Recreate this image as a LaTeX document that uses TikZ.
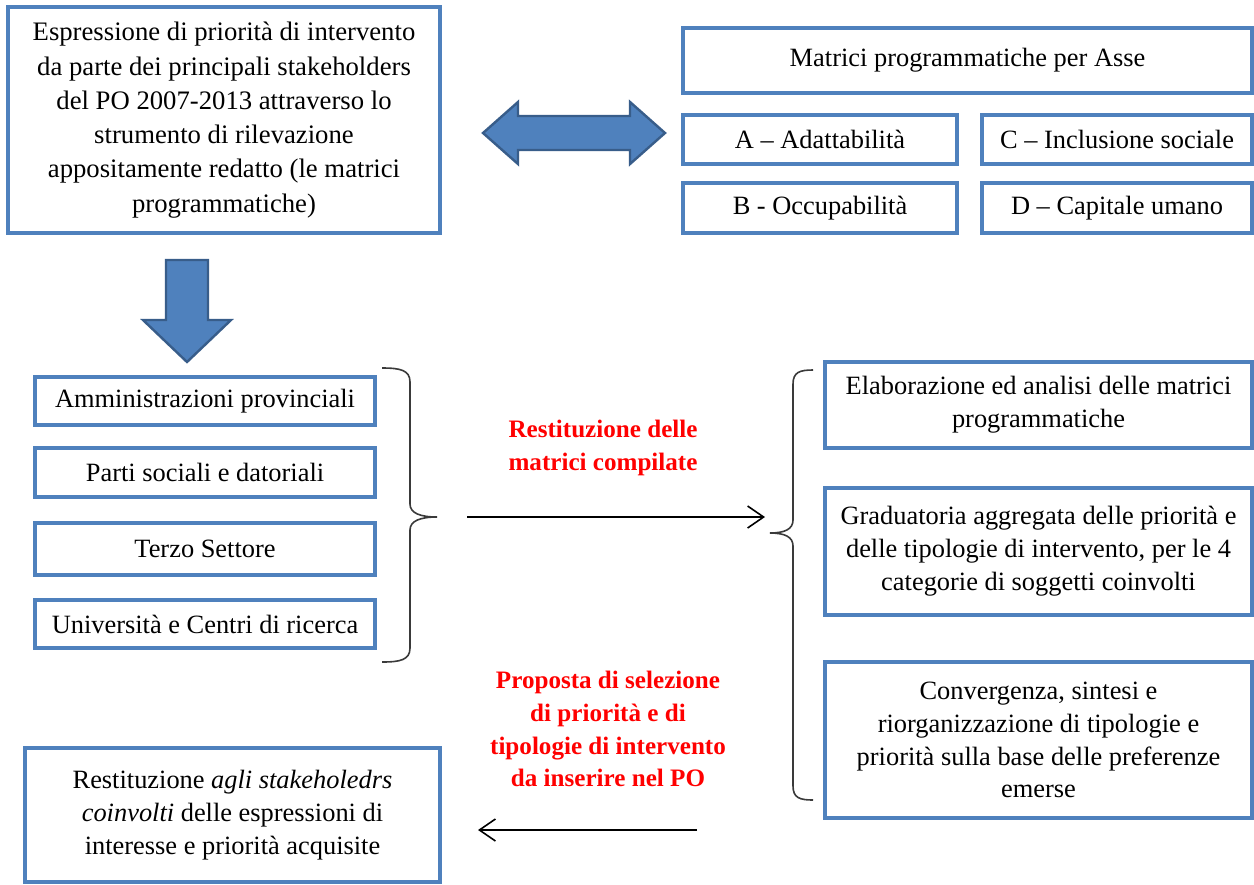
\documentclass[tikz,border=0pt]{standalone}
\usepackage{fontspec}
\setmainfont{Liberation Serif}
\usetikzlibrary{arrows.meta}
\definecolor{boxblue}{HTML}{4F81BD}
\definecolor{arrowfill}{HTML}{4F81BD}
\definecolor{arrowline}{HTML}{385D8A}
\definecolor{bracegray}{HTML}{3A3A3A}
\definecolor{labred}{HTML}{FF0000}
\tikzset{
  box/.style={draw=boxblue, line width=2bp, inner sep=0pt, align=center,
    font=\fontsize{13.25}{16.5}\selectfont, text=black},
  redlab/.style={inner sep=0pt, align=center, text=labred,
    font=\fontsize{12.6}{16.5}\selectfont\bfseries},
  bigarrow/.style={fill=arrowfill, draw=arrowline, line width=1.2bp, line join=miter},
  brace/.style={draw=bracegray, line width=0.8bp},
  conn/.style={draw=black, line width=0.8bp, -{Straight Barb[length=8bp,width=11bp,line width=0.8bp]}}
}
\begin{document}
\begin{tikzpicture}[x=0.5bp, y=-0.5bp]
\fill[white] (0,0) rectangle (1254,884);
\useasboundingbox (0,0) rectangle (1254,884);

% top-left box
\node[box, minimum width=216bp, minimum height=113bp, font=\fontsize{13.4}{17.2}\selectfont] (tl) at (224,120)
 {Espressione di priorità di intervento\\ da parte dei principali stakeholders\\ del PO 2007-2013 attraverso lo\\ strumento di rilevazione\\ appositamente redatto (le matrici\\ programmatiche)};

% top-right boxes
\node[box, minimum width=284.5bp, minimum height=32.5bp] (mat) at (967.5,60.5) {Matrici programmatiche per Asse};
\node[box, minimum width=137bp, minimum height=24.5bp] (A) at (820,139.5) {A – Adattabilità};
\node[box, minimum width=135bp, minimum height=24.5bp] (C) at (1117,139.5) {C – Inclusione sociale};
\node[box, minimum width=137bp, minimum height=25bp] (B) at (820,208) {B - Occupabilità};
\node[box, minimum width=135bp, minimum height=25bp] (D) at (1117,208) {D – Capitale umano};

% left column boxes
\node[box, minimum width=170bp, minimum height=24bp] (L1) at (205,401) {Amministrazioni provinciali};
\node[box, minimum width=170bp, minimum height=24.5bp] (L2) at (205,472.5) {Parti sociali e datoriali};
\node[box, minimum width=170bp, minimum height=26bp] (L3) at (205,549) {Terzo Settore};
\node[box, minimum width=170bp, minimum height=24bp] (L4) at (205,624) {Università e Centri di ricerca};

% right column boxes
\node[box, minimum width=213.5bp, minimum height=43bp] (R1) at (1038.5,405)
 {Elaborazione ed analisi delle matrici\\ programmatiche};
\node[box, minimum width=213.5bp, minimum height=63.5bp] (R2) at (1038.5,551.5)
 {Graduatoria aggregata delle priorità e\\ delle tipologie di intervento, per le 4\\ categorie di soggetti coinvolti};
\node[box, minimum width=213.5bp, minimum height=78bp] (R3) at (1038.5,740)
 {Convergenza, sintesi e\\ riorganizzazione di tipologie e\\ priorità sulla base delle preferenze\\ emerse};

% bottom-left box
\node[box, minimum width=207.5bp, minimum height=67bp] (BL) at (232.5,815)
 {Restituzione \textit{agli stakeholedrs}\\ \textit{coinvolti} delle espressioni di\\ interesse e priorità acquisite};

% red labels
\node[redlab] (lab1) at (603,448) {Restituzione delle\\ matrici compilate};
\node[redlab] (lab2) at (608,729) {Proposta di selezione\\ di priorità e di\\ tipologie di intervento\\ da inserire nel PO};

% double arrow
\draw[bigarrow] (483,133) -- (518,102) -- (518,116) -- (630,116) -- (630,102) -- (665,133)
  -- (630,164) -- (630,150) -- (518,150) -- (518,164) -- cycle;

% down arrow
\draw[bigarrow] (166,260) -- (208,260) -- (208,320) -- (231,320) -- (187,362)
  -- (143,320) -- (166,320) -- cycle;

% left brace
\draw[brace] (382,368) .. controls (400,368) and (410,370) .. (410,382) -- (410,504)
  .. controls (410,513) and (420,517) .. (437,517)
  .. controls (420,517) and (410,521) .. (410,530) -- (410,648)
  .. controls (410,660) and (400,662) .. (382,662);

% right brace
\draw[brace] (813,370) .. controls (800,370) and (793,372) .. (793,384) -- (793,520)
  .. controls (793,529) and (785,533) .. (770,533)
  .. controls (785,533) and (793,537) .. (793,546) -- (793,786)
  .. controls (793,798) and (800,800) .. (813,800);

% connectors
\coordinate (ra1) at (467,517);
\coordinate (ra2) at (765,517);
\draw[conn] (ra1) -- (ra2);
\coordinate (la1) at (697,830);
\coordinate (la2) at (478,830);
\draw[conn] (la1) -- (la2);
\end{tikzpicture}
\end{document}
